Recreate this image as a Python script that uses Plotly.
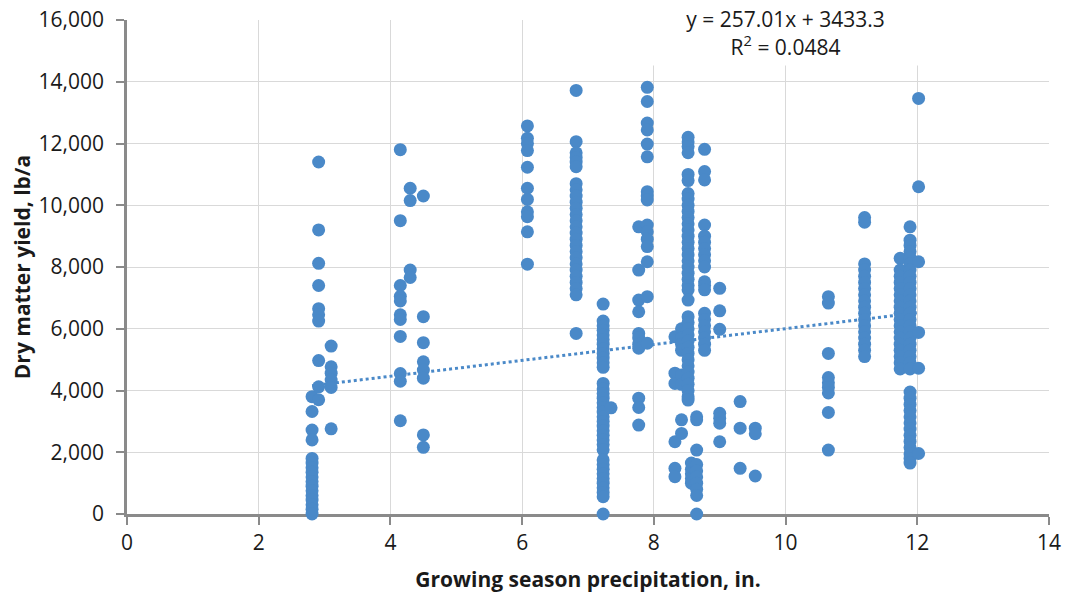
import plotly.graph_objects as go

# ---- data ----
precip_in = [2.81, 2.91, 3.10, 4.15, 4.30, 4.50, 6.08, 6.82, 7.23, 7.35, 7.77, 7.90,
             8.32, 8.42, 8.52, 8.57, 8.65, 8.77, 9.00, 9.31, 9.54, 10.65, 11.20,
             11.74, 11.89, 12.02]

yield_281 = [3800, 3320, 2720, 2400, 1800, 1650, 1500, 1350, 1200, 1050, 900, 750, 600, 450, 300, 150, 0]
yield_291 = [11400, 9200, 8120, 7400, 6650, 6450, 6250, 4970, 4120, 3700]
yield_310 = [5440, 4770, 4560, 4340, 4100, 2760]
yield_415 = [11800, 9500, 7400, 7050, 6900, 6450, 6300, 5750, 4550, 4300, 3020]
yield_430 = [10550, 10150, 7900, 7660]
yield_450 = [10300, 6390, 5550, 4930, 4660, 4400, 2560, 2160]
yield_608 = [12570, 12170, 12000, 11770, 11230, 10550, 10190, 9790, 9630, 9140, 8090]
yield_682 = [13720, 12060, 11700, 11550, 11400, 11250, 10700, 10500, 10300, 10100, 9900, 9700,
             9500, 9300, 9100, 8900, 8700, 8500, 8300, 8100, 7900, 7700, 7500, 7300, 7100, 5850]
yield_723 = [6800, 6250, 6100, 5950, 5800, 5650, 5500, 5350, 5200, 5050, 4900, 4750, 4230, 4050,
             3900, 3750, 3600, 3450, 3300, 3150, 3000, 2850, 2700, 2550, 2400, 2250, 2080, 1750,
             1600, 1450, 1300, 1150, 1000, 850, 700, 560, 0]
yield_735 = [3440]
yield_777 = [9300, 7900, 6930, 6550, 5850, 5700, 5500, 5370, 3750, 3450, 2880]
yield_790 = [13820, 13360, 12660, 12440, 11980, 11570, 10440, 10300, 10170, 9360, 9140, 8900,
             8660, 8170, 7040, 5530]
yield_832 = [5740, 4560, 4230, 2340, 1480, 1210]
yield_842 = [6000, 5700, 5500, 5300, 4500, 4200, 3050, 2610]
yield_852 = [12200, 12050, 11900, 11700, 11000, 10800, 10380, 10200, 10000, 9800, 9600, 9400,
             9200, 9000, 8800, 8600, 8400, 8200, 8000, 7800, 7600, 7400, 7260, 6930, 6390, 6200,
             6000, 5800, 5600, 5400, 5200, 5000, 4800, 4600, 4400, 4200, 4000, 3800, 3690]
yield_857 = [1650, 1450, 1300, 1150, 1000]
yield_865 = [3150, 3050, 2070, 1600, 1400, 1200, 1000, 800, 600, 0]
yield_877 = [11810, 11090, 10820, 9360, 9000, 8800, 8600, 8400, 8200, 8000, 7520, 7400, 7260,
             6500, 6300, 6100, 5900, 5700, 5500, 5300]
yield_900 = [7310, 6580, 5980, 3260, 3100, 2940, 2340]
yield_931 = [3640, 2780, 1480]
yield_954 = [2780, 2600, 1230]
yield_1065 = [7040, 6830, 5200, 4420, 4250, 4100, 3920, 3290, 2070]
yield_1120 = [9600, 9450, 8100, 7900, 7700, 7500, 7300, 7100, 6900, 6700, 6500, 6300, 6100,
              5900, 5700, 5500, 5300, 5100]
yield_1174 = [8280, 7900, 7700, 7500, 7300, 7100, 6900, 6700, 6500, 6300, 6100, 5900, 5700,
              5500, 5300, 5100, 4900, 4700]
yield_1189 = [9300, 8870, 8700, 8500, 8300, 8100, 7900, 7700, 7500, 7300, 7100, 6900, 6700,
              6500, 6300, 6100, 5900, 5700, 5500, 5300, 5100, 4900, 4700, 3950, 3750, 3550,
              3350, 3150, 2950, 2750, 2550, 2350, 2150, 1950, 1800, 1650]
yield_1202 = [13460, 10600, 8170, 5880, 4720, 1960]

yield_groups = [yield_281, yield_291, yield_310, yield_415, yield_430, yield_450, yield_608,
                yield_682, yield_723, yield_735, yield_777, yield_790, yield_832, yield_842,
                yield_852, yield_857, yield_865, yield_877, yield_900, yield_931, yield_954,
                yield_1065, yield_1120, yield_1174, yield_1189, yield_1202]

trend_slope = 257.01
trend_intercept = 3433.3
trend_label = "y = 257.01x + 3433.3<br>R<sup>2</sup> = 0.0484"

x_title = "Growing season precipitation, in."
y_title = "Dry matter yield, lb/a"

# ---- build ----
xs, ys = [], []
for xv, grp in zip(precip_in, yield_groups):
    xs += [xv] * len(grp)
    ys += grp

x_min, x_max = min(xs), max(xs)
trend_x = [x_min, x_max]
trend_y = [trend_slope * v + trend_intercept for v in trend_x]

BLUE = "#4A89C8"
FONT = "Open Sans"
TXT = "#1a1a1a"

fig = go.Figure()
fig.add_trace(go.Scatter(x=trend_x, y=trend_y, mode="lines",
                         line=dict(color=BLUE, width=3, dash="dot"),
                         hoverinfo="skip", showlegend=False))
fig.add_trace(go.Scatter(x=xs, y=ys, mode="markers",
                         marker=dict(color=BLUE, size=13, line=dict(width=0)),
                         cliponaxis=False, showlegend=False))

axis_common = dict(showgrid=True, gridcolor="#d9d9d9", gridwidth=1.3,
                   showline=True, linecolor="#8a8a8a", linewidth=2.5,
                   ticks="outside", ticklen=8, tickwidth=2, tickcolor="#8a8a8a",
                   zeroline=False, layer="below traces", ticklabeloverflow="allow",
                   tickfont=dict(family=FONT, size=21, color=TXT))

fig.update_xaxes(range=[0, 14], dtick=2, tick0=0,
                 title=dict(text=f"<b>{x_title}</b>", standoff=18,
                            font=dict(family=FONT, size=21, color=TXT)),
                 ticklabelstandoff=0, **axis_common)
fig.update_yaxes(range=[0, 16000], dtick=2000, tickformat=",d",
                 title=dict(text=f"<b>{y_title}</b>", standoff=10,
                            font=dict(family=FONT, size=21, color=TXT)),
                 ticklabelstandoff=8, **axis_common)

fig.add_annotation(x=0.7142, y=1.0405, xref="paper", yref="paper",
                   xanchor="center", yanchor="top", width=311, height=64,
                   bgcolor="white", borderpad=0, showarrow=False, align="center",
                   valign="middle", text=trend_label,
                   font=dict(family=FONT, size=21, color=TXT))

# the page body adds an 8 px offset, so the figure is 8 px smaller and margins compensate
fig.update_layout(width=1062, height=591, plot_bgcolor="white", paper_bgcolor="white",
                  margin=dict(l=119, r=21, t=12, b=85, autoexpand=False), showlegend=False)

fig.write_html("out.html")
